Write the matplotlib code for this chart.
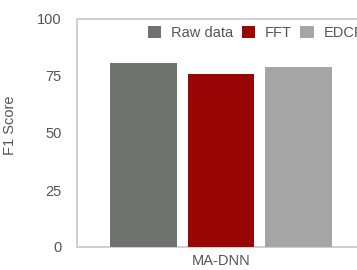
import matplotlib.pyplot as plt
import numpy as np

plt.rcParams['font.family'] = ['Liberation Sans', 'DejaVu Sans']

groups = ['MA-DNN']
series = ['Raw data', 'FFT', 'EDCF']
scores = [80.7, 75.9, 78.9]
colors = ['#6e7370', '#990606', '#a5a5a5']
yticks = [0, 25, 50, 75, 100]

fig = plt.figure(figsize=(3.57, 2.7), dpi=100)
ax = fig.add_axes([77 / 357, 23 / 270, 288 / 357, 228 / 270])

x = np.arange(len(series))
for i, (name, val, c) in enumerate(zip(series, scores, colors)):
    ax.bar(x[i], val, width=0.865, color=c, label=name, zorder=3)

ax.set_xlim(-0.86, 2.86)
ax.set_ylim(0, 100)
ax.set_yticks(yticks)
ax.set_xticks([1])
ax.set_xticklabels(groups)
ax.tick_params(length=0, labelsize=10.5, colors='#555555', pad=11)
ax.tick_params(axis='x', pad=5)
ax.set_yticks([25, 50, 75], minor=True)
ax.yaxis.grid(True, which='minor', linestyle=(0, (1, 1.5)), color='#aaaaaa', linewidth=0.8)
ax.spines['right'].set_visible(False)
for s in ['left', 'bottom', 'top']:
    ax.spines[s].set_color('#cccccc')
    ax.spines[s].set_linewidth(1.3)
ax.set_ylabel('F1 Score', fontsize=10.5, color='#555555')
ax.yaxis.set_label_coords(-0.208, 0.535)

ax.legend(loc='upper left', bbox_to_anchor=(148 / 357, 1 - 26 / 270),
          bbox_transform=fig.transFigure, ncol=3, frameon=False, borderpad=0,
          borderaxespad=0, handlelength=0.92, handleheight=0.92, handletextpad=0.65,
          columnspacing=0.6, fontsize=10.5, labelcolor='#555555')

fig.savefig('out.png', dpi=100)
